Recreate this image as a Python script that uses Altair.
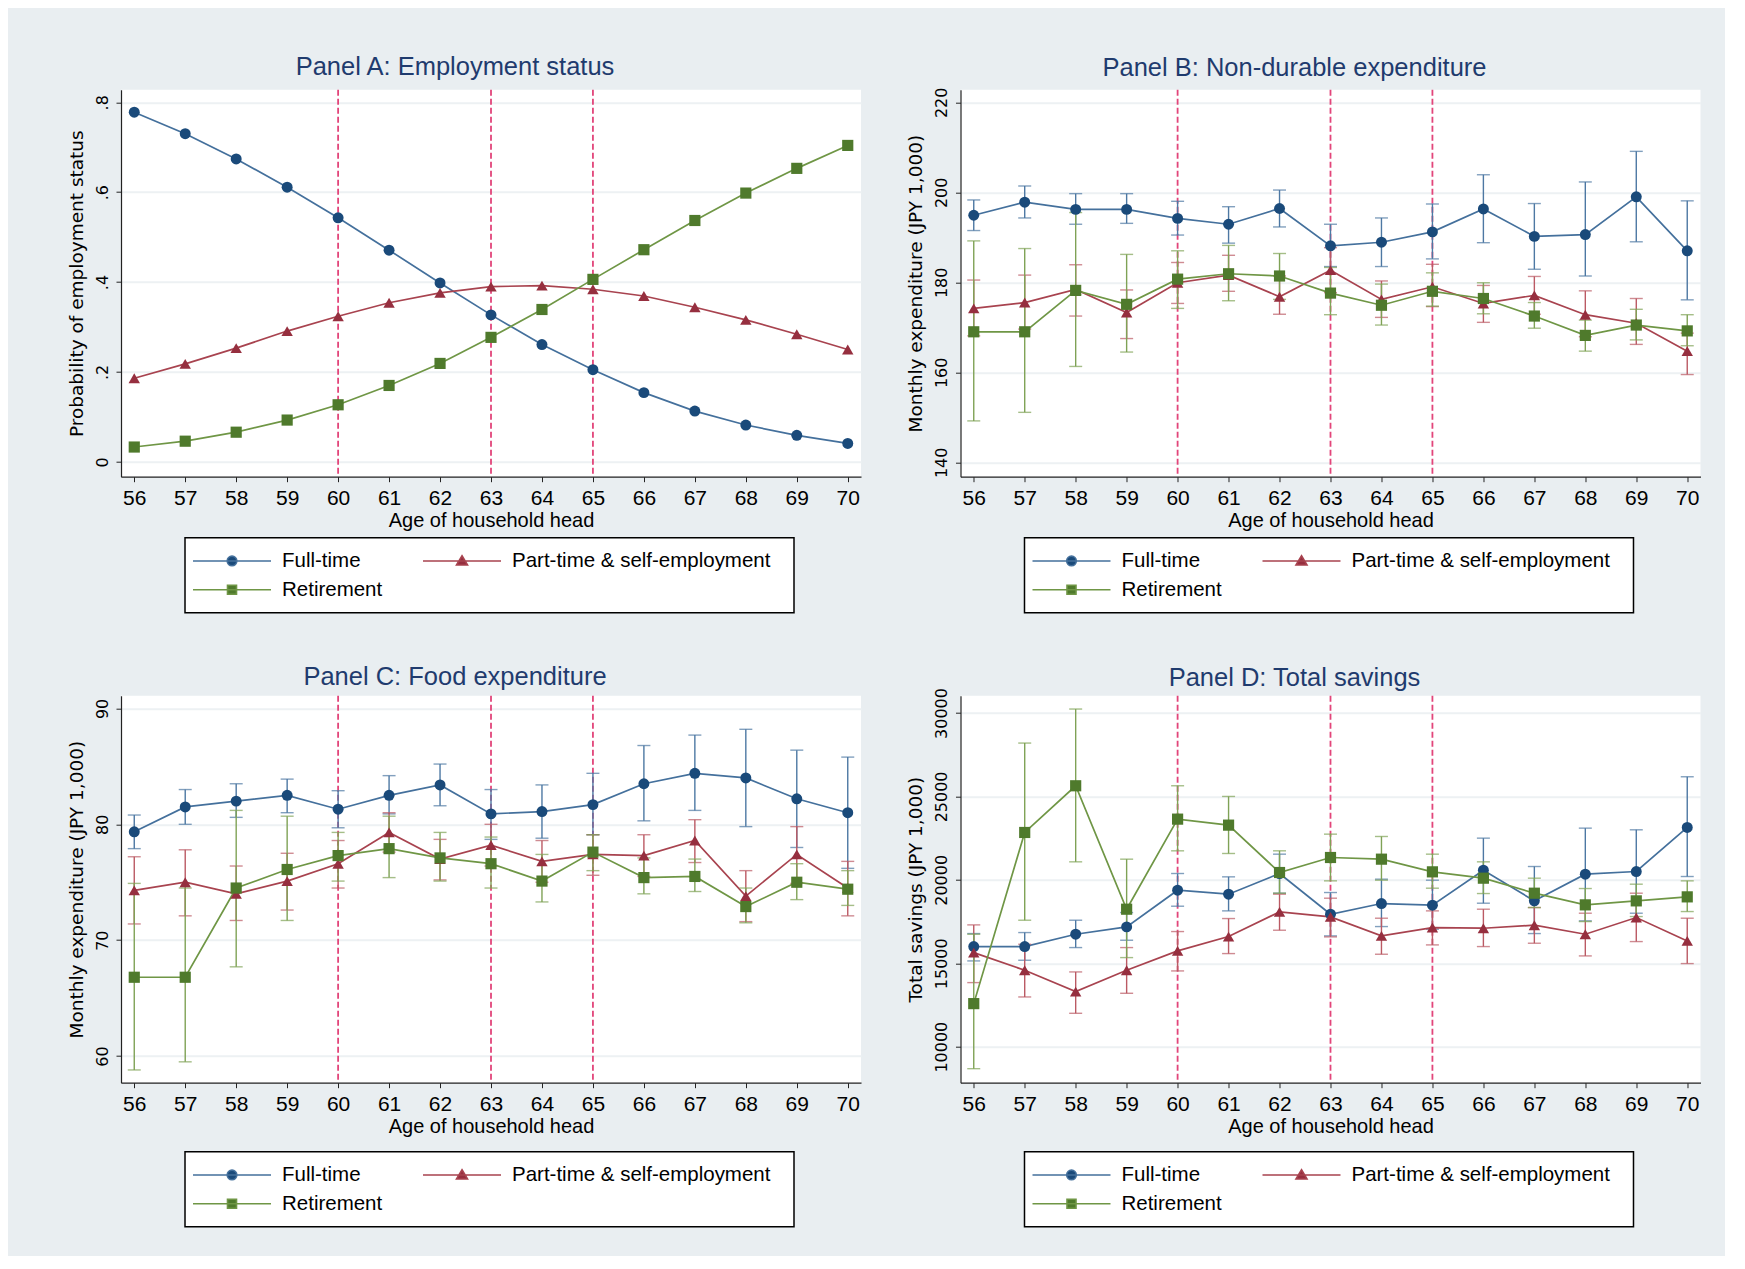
import altair as alt
import pandas as pd

AGES = list(range(56, 71))
SERIES = ["Full-time", "Part-time & self-employment", "Retirement"]
REFORM_AGES = [60, 63, 65]

# Panel A: probabilities
A_FT = [0.778, 0.730, 0.674, 0.611, 0.543, 0.471, 0.398, 0.327, 0.261, 0.205, 0.154, 0.113, 0.082, 0.059, 0.041]
A_PT = [0.186, 0.218, 0.253, 0.291, 0.324, 0.354, 0.376, 0.390, 0.392, 0.384, 0.369, 0.344, 0.316, 0.284, 0.250]
A_RT = [0.033, 0.046, 0.066, 0.093, 0.127, 0.170, 0.219, 0.277, 0.339, 0.406, 0.472, 0.537, 0.598, 0.653, 0.704]

# Panel B: non-durable expenditure
B_FT = [194.9, 197.8, 196.2, 196.2, 194.2, 192.9, 196.4, 188.1, 188.9, 191.2, 196.3, 190.2, 190.6, 199.0, 187.0]
B_FT_HI = [198.3, 201.4, 199.7, 199.7, 198.0, 196.8, 200.5, 192.9, 194.3, 197.4, 203.9, 197.5, 202.3, 209.1, 198.1]
B_FT_LO = [191.5, 194.3, 192.9, 193.1, 190.5, 188.7, 192.3, 183.5, 183.5, 185.2, 188.8, 182.9, 181.4, 189.0, 176.1]
B_PT = [174.2, 175.5, 178.4, 173.3, 179.9, 181.6, 176.8, 182.7, 176.2, 179.0, 175.3, 177.1, 172.8, 170.9, 164.7]
B_PT_HI = [180.5, 181.6, 183.9, 178.3, 184.4, 186.0, 181.4, 187.7, 180.3, 184.0, 179.3, 181.3, 178.1, 176.4, 168.7]
B_PT_LO = [168.1, 169.6, 172.5, 167.5, 175.3, 178.0, 172.9, 177.7, 172.2, 174.6, 171.1, 172.9, 167.9, 166.2, 159.5]
B_RT = [169.0, 169.0, 178.2, 175.1, 180.7, 181.9, 181.4, 177.6, 174.9, 178.0, 176.4, 172.5, 168.2, 170.5, 169.2]
B_RT_HI = [189.2, 187.5, 195.5, 186.2, 187.0, 188.2, 186.4, 183.3, 179.6, 182.1, 179.9, 175.5, 171.6, 174.0, 172.8]
B_RT_LO = [149.2, 151.1, 161.3, 164.5, 174.2, 175.9, 176.2, 172.8, 170.5, 174.7, 173.0, 169.8, 164.7, 167.2, 165.9]

# Panel C: food expenditure
C_FT = [79.35, 81.5, 82.0, 82.5, 81.3, 82.5, 83.4, 80.9, 81.1, 81.7, 83.5, 84.4, 84.0, 82.2, 81.0]
C_FT_HI = [80.8, 83.0, 83.5, 83.9, 82.9, 84.2, 85.2, 83.0, 83.4, 84.4, 86.8, 87.7, 88.2, 86.4, 85.8]
C_FT_LO = [77.9, 80.0, 80.6, 81.0, 79.7, 80.9, 81.6, 78.7, 78.8, 79.1, 80.3, 81.2, 79.8, 78.0, 76.2]
C_PT = [74.3, 75.0, 74.0, 75.1, 76.6, 79.3, 77.0, 78.2, 76.8, 77.4, 77.3, 78.6, 73.8, 77.4, 74.5]
C_PT_HI = [77.2, 77.8, 76.4, 77.5, 78.6, 81.0, 78.7, 80.0, 78.6, 79.1, 79.1, 80.4, 76.0, 79.8, 76.8]
C_PT_LO = [71.4, 72.1, 71.7, 72.6, 74.5, 77.6, 75.2, 76.4, 75.0, 75.6, 75.5, 76.7, 71.6, 74.9, 72.1]
C_RT = [66.8, 66.8, 74.5, 76.1, 77.3, 77.9, 77.1, 76.6, 75.1, 77.6, 75.4, 75.5, 72.9, 75.0, 74.4]
C_RT_HI = [74.9, 74.5, 81.2, 80.7, 79.3, 80.7, 79.3, 78.9, 77.4, 79.1, 77.1, 77.0, 74.5, 76.6, 76.0]
C_RT_LO = [58.8, 59.5, 67.7, 71.7, 75.1, 75.4, 75.1, 74.5, 73.3, 76.0, 74.0, 74.2, 71.5, 73.5, 73.0]

# Panel D: total savings
D_FT = [16000, 16000, 16740, 17180, 19380, 19140, 20380, 17940, 18580, 18480, 20580, 18740, 20340, 20500, 23140]
D_FT_HI = [16780, 16840, 17580, 18040, 20380, 20180, 21540, 19240, 20040, 19980, 22500, 20800, 23100, 23000, 26180]
D_FT_LO = [15140, 15180, 15940, 16380, 18420, 18140, 19200, 16640, 17200, 17040, 18600, 16780, 17540, 18000, 20200]
D_PT = [15640, 14580, 13300, 14580, 15740, 16600, 18080, 17780, 16640, 17140, 17100, 17280, 16740, 17740, 16340]
D_PT_HI = [17300, 16140, 14480, 15940, 16900, 17680, 19140, 18900, 17700, 18140, 18240, 18340, 18000, 19200, 17700]
D_PT_LO = [13840, 12980, 12000, 13200, 14540, 15580, 16980, 16580, 15540, 16100, 16000, 16200, 15440, 16300, 14980]
D_RT = [12580, 22840, 25640, 18240, 23640, 23280, 20440, 21340, 21240, 20480, 20100, 19200, 18500, 18740, 18980]
D_RT_HI = [16740, 28200, 30240, 21240, 25640, 25000, 21740, 22740, 22600, 21540, 21080, 20100, 19480, 19740, 19940]
D_RT_LO = [8680, 17580, 21080, 15340, 21740, 21580, 19200, 19940, 19980, 19500, 19180, 18340, 17500, 17800, 18100]

A_TICKS = [0, 0.2, 0.4, 0.6, 0.8]
B_TICKS = [140, 160, 180, 200, 220]
C_TICKS = [60, 70, 80, 90]
D_TICKS = [10000, 15000, 20000, 25000, 30000]

# ---------------- styling ----------------
MARK_COLORS = ["#1a4a7a", "#962f3f", "#4f7a2c"]
LINE_COLORS = ["#44709c", "#a8434f", "#6f9645"]
ERR_COLORS = ["#4d78a3", "#bb5a64", "#7fa256"]
SHAPES = ["circle", "triangle-up", "square"]
MARK_SIZES = [120, 130, 125]
DASH_COLOR = "#e2457a"
BG = "#e9eef1"
GRID = "#edf1f3"
TITLE_COLOR = "#1f3b6e"
SANS = "Liberation Sans"
YFONT = "DejaVu Sans"

LEG_PATHS = [
    "M-1.5,0 L6.3,0 M1.92,0 A0.48,0.48 0 1,0 2.88,0 A0.48,0.48 0 1,0 1.92,0 Z",
    "M-1.5,0 L6.3,0 M2.4,-0.52 L2.95,0.4 L1.85,0.4 Z",
    "M-1.5,0 L6.3,0 M1.95,-0.45 L2.85,-0.45 L2.85,0.45 L1.95,0.45 Z",
]

W, H = 740, 387
X_DOMAIN = [55.74, 70.26]


def make_df(vals, los=None, his=None):
    rows = []
    for s, series in enumerate(SERIES):
        for i, age in enumerate(AGES):
            r = {"age": age, "series": series, "value": vals[s][i]}
            if los is not None:
                r["lo"] = los[s][i]
                r["hi"] = his[s][i]
            rows.append(r)
    return pd.DataFrame(rows)


def panel(title, ytitle, df, ydomain, yticks, label_expr, has_ci, legend_y, title_offset):
    xscale = alt.Scale(domain=X_DOMAIN, nice=False, zero=False)
    yscale = alt.Scale(domain=ydomain, nice=False, zero=False)
    xaxis = alt.Axis(
        values=AGES, title="Age of household head", grid=False, format="d",
        labelFont=SANS, labelFontSize=21, labelColor="black", labelPadding=6,
        tickSize=5, tickColor="#222", domainColor="#222", domainWidth=1.2,
        titleFont=SANS, titleFontSize=20, titleFontWeight="normal", titleColor="black",
        titlePadding=2,
    )
    yaxis = alt.Axis(
        values=yticks, title=ytitle, grid=True, gridColor=GRID, gridWidth=2,
        labelExpr=label_expr, labelAngle=270, labelAlign="center", labelBaseline="bottom",
        labelFont=YFONT, labelFontSize=16, labelColor="black", labelPadding=6,
        tickSize=5, tickColor="#222", domainColor="#222", domainWidth=1.2,
        titleFont=YFONT, titleFontSize=18.5, titleFontWeight="normal", titleColor="black",
        titlePadding=8,
    )
    X = alt.X("age:Q", scale=xscale, axis=xaxis)
    Y = alt.Y("value:Q", scale=yscale, axis=yaxis)

    layers = []
    rules = alt.Chart(pd.DataFrame({"age": REFORM_AGES})).mark_rule(
        color=DASH_COLOR, strokeDash=[6, 3], strokeWidth=1.8
    ).encode(x=X)
    layers.append(rules)

    for s, series in enumerate(SERIES):
        base = alt.Chart(df).transform_filter(alt.datum.series == series)
        if has_ci:
            layers.append(base.mark_rule(color=ERR_COLORS[s], strokeWidth=1.4).encode(
                x=X, y=alt.Y("lo:Q", scale=yscale, axis=yaxis), y2="hi:Q"))
            layers.append(base.mark_tick(color=ERR_COLORS[s], thickness=1.4, size=13,
                                         orient="horizontal").encode(
                x=X, y=alt.Y("lo:Q", scale=yscale, axis=yaxis)))
            layers.append(base.mark_tick(color=ERR_COLORS[s], thickness=1.4, size=13,
                                         orient="horizontal").encode(
                x=X, y=alt.Y("hi:Q", scale=yscale, axis=yaxis)))
        layers.append(base.mark_line(color=LINE_COLORS[s], strokeWidth=1.7).encode(x=X, y=Y))

    for s, series in enumerate(SERIES):
        base = alt.Chart(df).transform_filter(alt.datum.series == series)
        layers.append(base.mark_point(shape=SHAPES[s], filled=True, color=MARK_COLORS[s],
                                      size=MARK_SIZES[s], opacity=1).encode(x=X, y=Y))

    legend = alt.Legend(
        orient="none", legendX=64, legendY=legend_y, direction="horizontal", columns=2,
        title=" ", titleOrient="right", titlePadding=11, titleFontSize=20, titleFont=SANS,
        strokeColor="black", fillColor="white", padding=12,
        rowPadding=7, columnPadding=36, symbolSize=400, labelOffset=63,
        labelFont=SANS, labelFontSize=20.5, labelColor="black", labelLimit=400,
        symbolStrokeWidth=1.6, symbolOpacity=1,
    )
    leg_layer = alt.Chart(df).transform_filter("datum.age < 0").mark_point(
        filled=True, opacity=1, strokeWidth=1.6
    ).encode(
        x=X, y=Y,
        fill=alt.Fill("series:N", scale=alt.Scale(domain=SERIES, range=MARK_COLORS), legend=legend),
        stroke=alt.Stroke("series:N", scale=alt.Scale(domain=SERIES, range=LINE_COLORS), legend=legend),
        shape=alt.Shape("series:N", scale=alt.Scale(domain=SERIES, range=LEG_PATHS), legend=legend),
    )
    layers.append(leg_layer)

    return alt.layer(*layers).properties(
        width=W, height=H,
        title=alt.TitleParams(title, font=SANS, fontSize=25.5, fontWeight="normal",
                              color=TITLE_COLOR, anchor="middle", frame="group",
                              dx=-36, offset=title_offset),
    )


dfA = make_df([A_FT, A_PT, A_RT])
dfB = make_df([B_FT, B_PT, B_RT], [B_FT_LO, B_PT_LO, B_RT_LO], [B_FT_HI, B_PT_HI, B_RT_HI])
dfC = make_df([C_FT, C_PT, C_RT], [C_FT_LO, C_PT_LO, C_RT_LO], [C_FT_HI, C_PT_HI, C_RT_HI])
dfD = make_df([D_FT, D_PT, D_RT], [D_FT_LO, D_PT_LO, D_RT_LO], [D_FT_HI, D_PT_HI, D_RT_HI])

probExpr = "datum.value == 0 ? '0' : replace(format(datum.value, '.1f'), '0.', '.')"
intExpr = "format(datum.value, 'd')"

pA = panel("Panel A: Employment status", "Probability of employment status", dfA,
           [-0.033, 0.828], A_TICKS, probExpr, False, 448, 8)
pB = panel("Panel B: Non-durable expenditure", "Monthly expenditure (JPY 1,000)", dfB,
           [136.8, 222.8], B_TICKS, intExpr, True, 448, 5.4)
pC = panel("Panel C: Food expenditure", "Monthly expenditure (JPY 1,000)", dfC,
           [57.7, 91.1], C_TICKS, intExpr, True, 456, 4)
pD = panel("Panel D: Total savings", "Total savings (JPY 1,000)", dfD,
           [7840, 31040], D_TICKS, intExpr, True, 456, -4)

chart = alt.concat(pA, pB, pC, pD, columns=2, spacing={"row": 51, "column": 44.5}).resolve_scale(
    x="independent", y="independent", fill="independent", stroke="independent", shape="independent"
).resolve_legend(
    fill="independent", stroke="independent", shape="independent"
).properties(
    background=BG,
    padding={"left": 59, "top": 46.7, "right": 24, "bottom": 28},
).configure_view(
    stroke=None, fill="white"
).configure_legend(
    strokeWidth=1.5
)

chart.save("out.html", embed_options={"renderer": "svg", "actions": False})
